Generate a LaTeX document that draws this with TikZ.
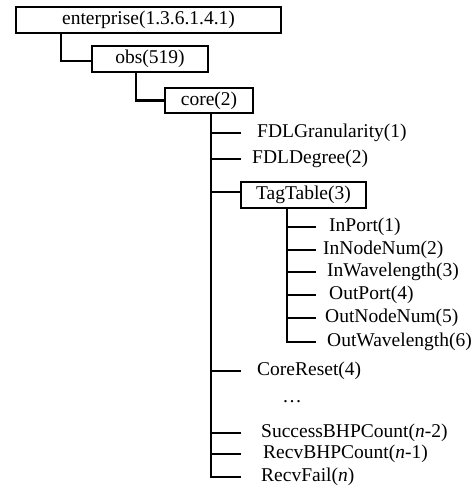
\documentclass[tikz,border=0pt]{standalone}
\usepackage{fontspec}
\setmainfont{Liberation Serif}
\begin{document}
\begin{tikzpicture}[x=1pt,y=-1pt,line width=2.4pt,
    box/.style={draw,inner sep=0pt,minimum height=26pt},
    leaf/.style={anchor=west,inner sep=0pt},
    font=\fontsize{19.5}{22}\selectfont]
  \useasboundingbox (0,0) rectangle (475,490);
  \node[box,minimum width=265pt] (ent) at (148.5,20) {enterprise(1.3.6.1.4.1)};
  \node[box,minimum width=116pt] (obs) at (150,59) {obs(519)};
  \node[box,minimum width=88pt,minimum height=25pt] (core) at (209,100.5) {core(2)};
  \node[box,minimum width=125pt] (tag) at (303.5,195) {TagTable(3)};
  \draw ([xshift=46pt]ent.south west) |- ([yshift=-2pt]obs.west);
  \draw ([xshift=45pt]obs.south west) |- (core.west);
  \coordinate (ct) at ([xshift=47pt]core.south west);
  \coordinate (tt) at ([xshift=47pt]tag.south west);
  \node[leaf] (gran) at (256,133) {FDLGranularity(1)};
  \node[leaf] (deg) at (251,159) {FDLDegree(2)};
  \node[leaf] (reset) at (256,371) {CoreReset(4)};
  \node (dots) at (292,402) {\dots};
  \node[leaf] (succ) at (260,433) {SuccessBHPCount(\textit{n}-2)};
  \node[leaf] (recv) at (262,454) {RecvBHPCount(\textit{n}-1)};
  \node[leaf] (fail) at (260,477) {RecvFail(\textit{n})};
  \node[leaf] (inport) at (328,227) {InPort(1)};
  \node[leaf] (innode) at (322,250) {InNodeNum(2)};
  \node[leaf] (inwave) at (326,272) {InWavelength(3)};
  \node[leaf] (outport) at (328,295) {OutPort(4)};
  \node[leaf] (outnode) at (324,318) {OutNodeNum(5)};
  \node[leaf] (outwave) at (326,342) {OutWavelength(6)};
  \draw (ct) -- (ct |- fail.west) -- ++(30,0);
  \foreach \n in {gran,deg,reset,succ,recv}
    \draw (ct |- \n.west) -- ++(30,0);
  \draw ([yshift=3pt]tag.west) -- ++(-29,0);
  \draw (tt) -- (tt |- outwave.west) -- ++(29,0);
  \foreach \n in {inport,innode,inwave,outport,outnode}
    \draw (tt |- \n.west) -- ++(29,0);
\end{tikzpicture}
\end{document}
